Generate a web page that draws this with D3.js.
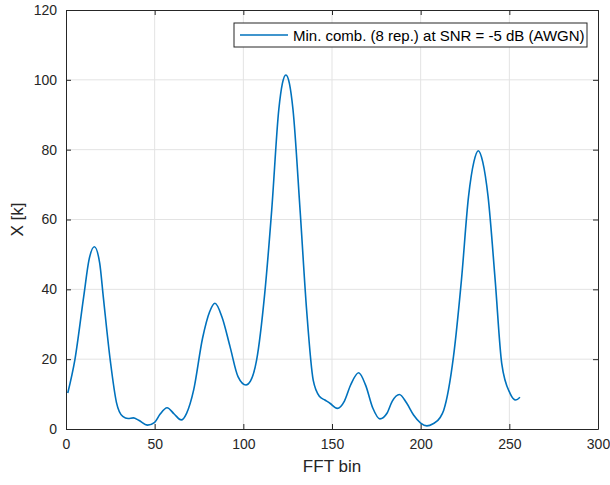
<!DOCTYPE html>
<html>
<head>
<meta charset="utf-8">
<script src="https://cdn.jsdelivr.net/npm/d3@7"></script>
<style>
  body { margin: 0; background: #fff; }
  svg { font-family: "Liberation Sans", Arial, sans-serif; }
</style>
</head>
<body>
<svg width="610" height="485"></svg>
<script>
// FFT bin positions and magnitudes
var bins = [1, 5, 10, 13, 16, 19, 21, 25, 28.5, 32, 35, 38, 41, 46, 50, 53, 57, 61, 65, 68,
  72, 77, 81, 84, 88, 92.5, 97, 101.5, 104, 107.5, 112, 116, 120, 122, 124, 126, 128, 132,
  135.7, 139.4, 143, 146, 149, 153, 157, 160.5, 165, 169, 173, 177, 181, 184, 188, 192,
  196, 200, 203.5, 207, 211, 213, 218.5, 223, 227, 230, 232.5, 235, 238, 242, 245.7,
  250.4, 253.6, 256]
var mag = [10.3, 19.8, 38, 48.5, 52.2, 47.5, 38, 19.5, 7.5, 3.6, 3.0, 3.2, 2.5, 1.1, 1.9,
  4.2, 6.1, 4.3, 2.6, 4.5, 11.2, 26, 33.6, 36, 32, 23.6, 15, 12.6, 13.7, 19.8, 38.5, 62.7,
  91.5, 98.9, 101.4, 98.9, 91.5, 62.7, 34, 14, 9.3, 8.3, 7.3, 5.9, 8, 12.6, 16.1, 12.5, 6,
  2.9, 4.5, 8, 9.9, 7.5, 4, 1.7, 0.9, 1.5, 3.3, 5.4, 20.7, 42.7, 66.6, 76.5, 79.7, 76.5,
  66.6, 42.7, 18.8, 10.2, 8.3, 9.1]
var xTicks = [0, 50, 100, 150, 200, 250, 300]
var yTicks = [0, 20, 40, 60, 80, 100, 120]
var legendLabel = "Min. comb. (8 rep.) at SNR = -5 dB (AWGN)"

var svg = d3.select('svg')
var m = {left: 66, right: 598, top: 10, bottom: 429}

var x = d3.scaleLinear().domain([0, 300]).range([m.left, m.right])
var y = d3.scaleLinear().domain([0, 120]).range([m.bottom, m.top])

// grid
svg.append('g').selectAll('line.gx')
  .data(xTicks.slice(1, -1)).enter().append('line')
  .attr('x1', x).attr('x2', x)
  .attr('y1', m.top).attr('y2', m.bottom)
  .attr('stroke', '#e3e3e3').attr('stroke-width', 1)
svg.append('g').selectAll('line.gy')
  .data(yTicks.slice(1, -1)).enter().append('line')
  .attr('y1', y).attr('y2', y)
  .attr('x1', m.left).attr('x2', m.right)
  .attr('stroke', '#e3e3e3').attr('stroke-width', 1)

// axes, MATLAB style with inward ticks on all four sides
function styleAxis(g) {
  g.select('.domain').attr('stroke', '#262626')
  g.selectAll('.tick line').attr('stroke', '#262626')
  g.selectAll('.tick text').attr('fill', '#262626').attr('font-size', 14)
}
svg.append('g').attr('transform', 'translate(0,' + m.bottom + ')')
  .call(d3.axisBottom(x).tickValues(xTicks).tickSizeInner(-5).tickSizeOuter(0).tickPadding(10))
  .call(styleAxis)
svg.append('g').attr('transform', 'translate(0,' + m.top + ')')
  .call(d3.axisTop(x).tickValues(xTicks).tickSizeInner(-5).tickSizeOuter(0).tickFormat(''))
  .call(styleAxis)
svg.append('g').attr('transform', 'translate(' + m.left + ',0)')
  .call(d3.axisLeft(y).tickValues(yTicks).tickSizeInner(-5).tickSizeOuter(0).tickPadding(9))
  .call(styleAxis)
svg.append('g').attr('transform', 'translate(' + m.right + ',0)')
  .call(d3.axisRight(y).tickValues(yTicks).tickSizeInner(-5).tickSizeOuter(0).tickFormat(''))
  .call(styleAxis)

// curve
var pts = bins.map(function (b, i) { return [b, mag[i]] })
svg.append('path')
  .datum(pts)
  .attr('fill', 'none')
  .attr('stroke', '#0072BD')
  .attr('stroke-width', 1.6)
  .attr('d', d3.line()
    .x(function (d) { return x(d[0]) })
    .y(function (d) { return y(d[1]) })
    .curve(d3.curveMonotoneX))

// axis labels
svg.append('text')
  .attr('x', (m.left + m.right) / 2).attr('y', 472)
  .attr('text-anchor', 'middle').attr('font-size', 17).attr('fill', '#262626')
  .text('FFT bin')
svg.append('text')
  .attr('transform', 'translate(23,' + ((m.top + m.bottom) / 2) + ') rotate(-90)')
  .attr('text-anchor', 'middle').attr('font-size', 17).attr('fill', '#262626')
  .text('X [k]')

// legend
var lg = svg.append('g')
lg.append('rect')
  .attr('x', 234).attr('y', 23).attr('width', 353).attr('height', 24)
  .attr('fill', '#fff').attr('stroke', '#262626').attr('stroke-width', 1)
lg.append('line')
  .attr('x1', 240).attr('x2', 288).attr('y1', 35).attr('y2', 35)
  .attr('stroke', '#0072BD').attr('stroke-width', 1.6)
lg.append('text')
  .attr('x', 293).attr('y', 40.5)
  .attr('font-size', 15).attr('fill', '#000')
  .text(legendLabel)
</script>
</body>
</html>
